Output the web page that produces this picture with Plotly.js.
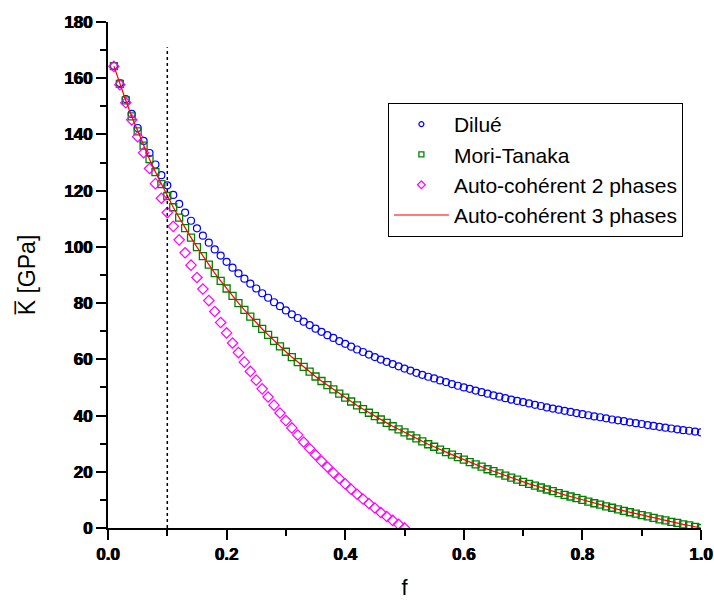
<!DOCTYPE html>
<html><head><meta charset="utf-8">
<script src="https://cdn.plot.ly/plotly-3.0.1.min.js"></script>
<style>html,body{margin:0;padding:0;background:#fff}</style>
</head><body><div id="chart" style="width:714px;height:600px"></div>
<script>
// porosity f
const f = [0.01,0.02,0.03,0.04,0.05,0.06,0.07,0.08,0.09,0.10,
0.11,0.12,0.13,0.14,0.15,0.16,0.17,0.18,0.19,0.20,
0.21,0.22,0.23,0.24,0.25,0.26,0.27,0.28,0.29,0.30,
0.31,0.32,0.33,0.34,0.35,0.36,0.37,0.38,0.39,0.40,
0.41,0.42,0.43,0.44,0.45,0.46,0.47,0.48,0.49,0.50,
0.51,0.52,0.53,0.54,0.55,0.56,0.57,0.58,0.59,0.60,
0.61,0.62,0.63,0.64,0.65,0.66,0.67,0.68,0.69,0.70,
0.71,0.72,0.73,0.74,0.75,0.76,0.77,0.78,0.79,0.80,
0.81,0.82,0.83,0.84,0.85,0.86,0.87,0.88,0.89,0.90,
0.91,0.92,0.93,0.94,0.95,0.96,0.97,0.98,0.99,1.00];

// Dilué
const dilue = [164.4,158.3,152.6,147.3,142.3,137.7,133.4,129.3,125.5,121.9,
118.5,115.3,112.2,109.3,106.6,104.0,101.5,99.1,96.9,94.7,
92.6,90.6,88.7,86.9,85.2,83.5,81.9,80.3,78.9,77.4,
76.0,74.7,73.4,72.2,70.9,69.8,68.6,67.6,66.5,65.5,
64.5,63.5,62.6,61.7,60.8,59.9,59.1,58.3,57.5,56.7,
56.0,55.2,54.5,53.8,53.2,52.5,51.9,51.2,50.6,50.0,
49.5,48.9,48.3,47.8,47.2,46.7,46.2,45.7,45.2,44.8,
44.3,43.8,43.4,42.9,42.5,42.1,41.7,41.3,40.9,40.5,
40.1,39.7,39.4,39.0,38.6,38.3,38.0,37.6,37.3,37.0,
36.6,36.3,36.0,35.7,35.4,35.1,34.8,34.6,34.3,34.0];

// Mori-Tanaka
const moriTanaka = [164.3,158.0,152.1,146.4,141.1,136.0,131.2,126.6,122.3,118.1,
114.1,110.4,106.7,103.3,99.9,96.7,93.7,90.7,87.9,85.2,
82.6,80.0,77.6,75.2,73.0,70.8,68.7,66.6,64.6,62.7,
60.8,59.0,57.3,55.6,53.9,52.3,50.8,49.3,47.8,46.4,
45.0,43.6,42.3,41.0,39.8,38.6,37.4,36.2,35.1,34.0,
32.9,31.9,30.8,29.8,28.9,27.9,27.0,26.1,25.2,24.3,
23.4,22.6,21.8,20.9,20.2,19.4,18.6,17.9,17.2,16.4,
15.7,15.1,14.4,13.7,13.1,12.4,11.8,11.2,10.6,10.0,
9.4,8.8,8.3,7.7,7.2,6.6,6.1,5.6,5.1,4.6,
4.1,3.6,3.1,2.7,2.2,1.8,1.3,0.9,0.4,0.0];

// Auto-cohérent 2 phases (f = 0.01 ... 0.50)
const autoCoh2 = [164.2,157.7,151.3,145.2,139.2,133.5,127.9,122.5,117.3,112.2,
107.3,102.5,97.9,93.5,89.1,85.0,80.9,77.0,73.1,69.4,
65.8,62.4,59.0,55.7,52.6,49.5,46.6,43.7,40.9,38.2,
35.6,33.1,30.6,28.3,26.0,23.8,21.7,19.6,17.6,15.7,
13.8,12.0,10.3,8.7,7.1,5.5,4.1,2.7,1.3,0.0];

// Auto-cohérent 3 phases (coincides with Mori-Tanaka)
const autoCoh3 = [164.3,158.0,152.1,146.4,141.1,136.0,131.2,126.6,122.3,118.1,
114.1,110.4,106.7,103.3,99.9,96.7,93.7,90.7,87.9,85.2,
82.6,80.0,77.6,75.2,73.0,70.8,68.7,66.6,64.6,62.7,
60.8,59.0,57.3,55.6,53.9,52.3,50.8,49.3,47.8,46.4,
45.0,43.6,42.3,41.0,39.8,38.6,37.4,36.2,35.1,34.0,
32.9,31.9,30.8,29.8,28.9,27.9,27.0,26.1,25.2,24.3,
23.4,22.6,21.8,20.9,20.2,19.4,18.6,17.9,17.2,16.4,
15.7,15.1,14.4,13.7,13.1,12.4,11.8,11.2,10.6,10.0,
9.4,8.8,8.3,7.7,7.2,6.6,6.1,5.6,5.1,4.6,
4.1,3.6,3.1,2.7,2.2,1.8,1.3,0.9,0.4,0.0];

// tick values and labels
const xTickVals = [0, 0.2, 0.4, 0.6, 0.8, 1.0];
const xTickText = ['0.0', '0.2', '0.4', '0.6', '0.8', '1.0'];
const yTickVals = [0, 20, 40, 60, 80, 100, 120, 140, 160, 180];
const yTickText = ['0', '20', '40', '60', '80', '100', '120', '140', '160', '180'];

const seriesNames = ['Dilué','Mori-Tanaka','Auto-cohérent 2 phases','Auto-cohérent 3 phases'];
const refF = 0.1;      // dotted reference line position
const refTop = 171;

const BLUE = '#0000ff', GREEN = '#008000', MAGENTA = '#ff00ff', RED = '#ff0000';
const bold = s => '<b>' + s + '</b>';

const traces = [
  {type:'scatter', mode:'markers', x:f, y:dilue, name:seriesNames[0], showlegend:false,
   marker:{symbol:'circle-open', size:7, color:BLUE, line:{width:1.2, color:BLUE}}},
  {type:'scatter', mode:'markers', x:f, y:moriTanaka, name:seriesNames[1], showlegend:false,
   marker:{symbol:'square-open', size:7, color:GREEN, line:{width:1.3, color:GREEN}}},
  {type:'scatter', mode:'markers', x:f.slice(0, autoCoh2.length), y:autoCoh2, name:seriesNames[2], showlegend:false,
   marker:{symbol:'diamond-open', size:8, color:MAGENTA, line:{width:1.2, color:MAGENTA}}},
  {type:'scatter', mode:'lines', x:f, y:autoCoh3, name:seriesNames[3], showlegend:false,
   line:{color:RED, width:1.2}},
  // legend entries (small symbols, as in the original legend)
  {type:'scatter', mode:'markers', x:[null], y:[null], name:seriesNames[0],
   marker:{symbol:'circle-open', size:5, color:BLUE, line:{width:1.2, color:BLUE}}},
  {type:'scatter', mode:'markers', x:[null], y:[null], name:seriesNames[1],
   marker:{symbol:'square-open', size:5, color:GREEN, line:{width:1.3, color:GREEN}}},
  {type:'scatter', mode:'markers', x:[null], y:[null], name:seriesNames[2],
   marker:{symbol:'diamond-open', size:6, color:MAGENTA, line:{width:1.2, color:MAGENTA}}},
  {type:'scatter', mode:'lines', x:[null], y:[null], name:seriesNames[3],
   line:{color:'#ff5050', width:1.5}}
];

const tickFont = {family:'Liberation Sans, Arial, sans-serif', size:17, weight:'bold', color:'#000',
  shadow:'0.6px 0 0 #000, -0.3px 0 0 #000'};

const axisCommon = {
  ticks:'outside', ticklen:10, tickwidth:2, tickcolor:'#000',
  showline:true, linewidth:2, linecolor:'#000',
  showgrid:false, zeroline:false, tickmode:'array',
  tickfont:tickFont
};

const layout = {
  width:714, height:600,
  margin:{l:108, r:13, t:22, b:72},
  paper_bgcolor:'#fff', plot_bgcolor:'#fff',
  font:{family:'Liberation Sans, Arial, sans-serif', color:'#000'},
  showlegend:true,
  xaxis:Object.assign({}, axisCommon, {
    range:[0,1], tickvals:xTickVals, ticktext:xTickText.map(bold),
    minor:{tickmode:'linear', tick0:0, dtick:0.1, ticks:'outside', ticklen:6, tickwidth:2, tickcolor:'#000', showgrid:false},
    title:{text:'f', font:{size:22}, standoff:20}
  }),
  yaxis:Object.assign({}, axisCommon, {
    range:[0,180], tickvals:yTickVals, ticktext:yTickText.map(bold),
    minor:{tickmode:'linear', tick0:0, dtick:10, ticks:'outside', ticklen:6, tickwidth:2, tickcolor:'#000', showgrid:false},
    title:{text:'K\u0305 [GPa]', font:{size:23}, standoff:22}
  }),
  legend:{x:0.472, y:0.840, xanchor:'left', yanchor:'top',
    bordercolor:'#000', borderwidth:1, bgcolor:'#fff',
    font:{size:21, color:'#000'}, itemwidth:55, tracegroupgap:0},
  shapes:[{type:'line', xref:'x', yref:'y', x0:refF, x1:refF, y0:0, y1:refTop,
    line:{color:'#000', width:1.5, dash:'dot'}}]
};

Plotly.newPlot('chart', traces, layout, {displayModeBar:false, staticPlot:true});
</script>
</body></html>
